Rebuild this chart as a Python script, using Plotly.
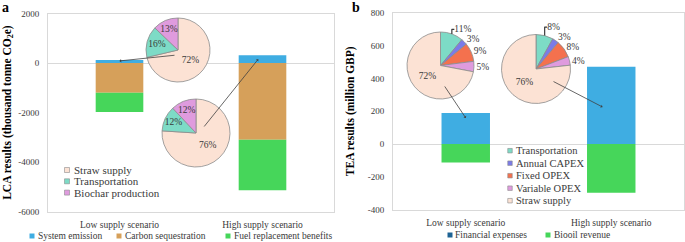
import plotly.graph_objects as go

W, H = 685, 242
FONT = "Liberation Serif"
TXT = "#3a3a3a"

# ---------------- data ----------------
scenarios = ["Low supply scenario", "High supply scenario"]

# panel a: LCA (thousand tonne CO2e)
lca_system_emission = [120, 310]
lca_carbon_sequestration = [-1200, -3100]
lca_fuel_replacement = [-780, -2030]
lca_tick_vals = [-6000, -4000, -2000, 0, 2000]
lca_tick_text = ["-6000", "-4000", "-2000", "0", "2000"]

lca_pie_labels = ["Straw supply", "Transportation", "Biochar production"]
lca_pie_low = [72, 16, 13]
lca_pie_high = [76, 12, 12]

# panel b: TEA (million GBP)
tea_financial_expenses = [189, 472]
tea_biooil_revenue = [-113, -297]
tea_tick_vals = [-400, -200, 0, 200, 400, 600, 800]
tea_tick_text = ["-400", "-200", "0", "200", "400", "600", "800"]

tea_pie_labels = ["Transportation", "Annual CAPEX", "Fixed OPEX", "Variable OPEX", "Straw supply"]
tea_pie_low = [11, 3, 9, 5, 72]
tea_pie_high = [8, 3, 8, 4, 76]

# ---------------- styles ----------------
C_BLUE = "#3FADE2"
C_TAN = "#D6A05A"
C_GREEN = "#46D65A"
C_FIN = "#1E6394"
pie_colors = {
    "Straw supply": "#FCE2D4",
    "Transportation": "#7DDBC6",
    "Biochar production": "#DF9BDE",
    "Annual CAPEX": "#7B7BE8",
    "Fixed OPEX": "#F4714E",
    "Variable OPEX": "#DF9BDE",
}
PIE_LINE = "#8C8C8C"


def px(x):
    return x / W


def py(y):
    return 1 - y / H


fig = go.Figure()

# ---------------- bars ----------------
bar_series = [
    (lca_system_emission, C_BLUE, "System emission", "x", "y"),
    (lca_carbon_sequestration, C_TAN, "Carbon sequestration", "x", "y"),
    (lca_fuel_replacement, C_GREEN, "Fuel replacement benefits", "x", "y"),
    (tea_financial_expenses, C_BLUE, "Financial expenses", "x2", "y2"),
    (tea_biooil_revenue, C_GREEN, "Biooil revenue", "x2", "y2"),
]
for vals, col, name, xa, ya in bar_series:
    fig.add_trace(go.Bar(
        x=scenarios, y=vals, name=name, marker=dict(color=col, line=dict(width=0)),
        showlegend=False, hoverinfo="skip", xaxis=xa, yaxis=ya,
    ))

# ---------------- pies ----------------
def pie_domain(cx, cy, r):
    return dict(x=[px(cx - r), px(cx + r)], y=[py(cy + r), py(cy - r)])


pie_specs = [
    (lca_pie_labels, lca_pie_low, (178, 50, 32), ["inside"] * 3),
    (lca_pie_labels, lca_pie_high, (196, 133, 34), ["inside"] * 3),
    (tea_pie_labels, tea_pie_low, (440.5, 65.5, 33.5), ["outside"] * 4 + ["inside"]),
    (tea_pie_labels, tea_pie_high, (536, 69, 34.5), ["outside"] * 4 + ["inside"]),
]
for labels, values, (cx, cy, r), tpos in pie_specs:
    fig.add_trace(go.Pie(
        labels=labels, values=values, domain=pie_domain(cx, cy, r),
        sort=False, direction="clockwise", rotation=0,
        marker=dict(colors=[pie_colors[l] for l in labels], line=dict(color=PIE_LINE, width=0.8)),
        texttemplate="%{value}%", textposition=tpos,
        textfont=dict(family=FONT, size=9.5, color=TXT),
        insidetextorientation="horizontal",
        showlegend=False, hoverinfo="skip",
    ))

# ---------------- axes ----------------
line_common = dict(showline=True, mirror=True, linecolor="#D9D9D9", linewidth=1,
                   showgrid=False, ticks="")
tick_font = dict(family=FONT, size=9, color=TXT)
cat_font = dict(family=FONT, size=9.5, color=TXT)
title_font = dict(family=FONT, size=11.5, color="#000000")

fig.update_layout(
    width=W, height=H,
    margin=dict(l=0, r=0, t=0, b=0, autoexpand=False),
    paper_bgcolor="white", plot_bgcolor="white",
    bargap=0.667, barmode="relative", showlegend=False,
    uniformtext=dict(minsize=9.5, mode="show"),
    xaxis=dict(domain=[px(48), px(334)], anchor="y", type="category",
               ticklabelstandoff=4, tickfont=cat_font, **line_common),
    yaxis=dict(domain=[py(211.7), py(13.5)], anchor="x", range=[-6000, 2000],
               tickvals=lca_tick_vals, ticktext=lca_tick_text, tickfont=tick_font,
               zeroline=True, zerolinecolor="#D9D9D9", zerolinewidth=1,
               ticklabelstandoff=6,
               title=dict(text="<b>LCA results (thousand tonne CO<sub>2</sub>e)</b>",
                          font=title_font, standoff=4),
               **line_common),
    xaxis2=dict(domain=[px(393), px(684)], anchor="y2", type="category",
                ticklabelstandoff=4, tickfont=cat_font, **line_common),
    yaxis2=dict(domain=[py(209.5), py(13)], anchor="x2", range=[-400, 800],
                tickvals=tea_tick_vals, ticktext=tea_tick_text, tickfont=tick_font,
                zeroline=True, zerolinecolor="#D9D9D9", zerolinewidth=1,
                ticklabelstandoff=6,
                title=dict(text="<b>TEA results (million GBP)</b>", font=title_font, standoff=10),
                **line_common),
)

# ---------------- arrows from pies to bars ----------------
arrows = [
    # (x on category axis, y data, ax px, ay px, xref, yref)
    (0.0, 85, 58, -6, "x", "y"),
    (0.97, 155, -57, 71, "x", "y"),
    (0.0, 159, -24, -36, "x2", "y2"),
    (0.94, 226, -52, -27, "x2", "y2"),
]
for x, y, axp, ayp, xr, yr in arrows:
    fig.add_annotation(x=x, y=y, xref=xr, yref=yr, ax=axp, ay=ayp, axref="pixel", ayref="pixel",
                       text=" ", showarrow=True, arrowhead=1, arrowsize=0.7, arrowwidth=0.8,
                       arrowcolor="#404040", standoff=0)


# ---------------- legends (swatch + label) ----------------
def swatch(xc, yc, size, color, outline):
    fig.add_shape(type="rect", xref="paper", yref="paper",
                  x0=px(xc - size / 2), x1=px(xc + size / 2),
                  y0=py(yc + size / 2), y1=py(yc - size / 2),
                  fillcolor=color, line=dict(color=outline, width=0.6 if outline else 0))


def label(x, y, text, size):
    fig.add_annotation(x=px(x), y=py(y), xref="paper", yref="paper",
                       text=text, showarrow=False, xanchor="left", yanchor="middle",
                       font=dict(family=FONT, size=size, color=TXT))


def pie_legend(labels, x0, y0, step, size, fsize):
    for i, lab in enumerate(labels):
        yc = y0 + i * step
        swatch(x0, yc, size, pie_colors[lab], PIE_LINE)
        label(x0 + size / 2 + 2, yc, lab, fsize)


pie_legend(lca_pie_labels, 67, 170, 11.3, 5, 11)
pie_legend(tea_pie_labels, 510, 150.7, 12.5, 4.5, 10.5)

bar_legends = [
    # (name, colour, swatch centre x, y)
    ("System emission", C_BLUE, 32, 236),
    ("Carbon sequestration", C_TAN, 119, 236),
    ("Fuel replacement benefits", C_GREEN, 228, 236),
    ("Financial expenses", C_FIN, 450, 235),
    ("Biooil revenue", C_GREEN, 548, 235),
]
for name, col, xc, yc in bar_legends:
    swatch(xc, yc, 5, col, None)
    label(xc + 3.5, yc, name, 9.5)

# ---------------- panel letters ----------------
for letter, x in [("a", 5), ("b", 355.5)]:
    fig.add_annotation(x=px(x), y=py(7), xref="paper", yref="paper", text=f"<b>{letter}</b>",
                       showarrow=False, xanchor="center", yanchor="middle",
                       font=dict(family=FONT, size=14, color="#000000"))

fig.write_html("out.html")
